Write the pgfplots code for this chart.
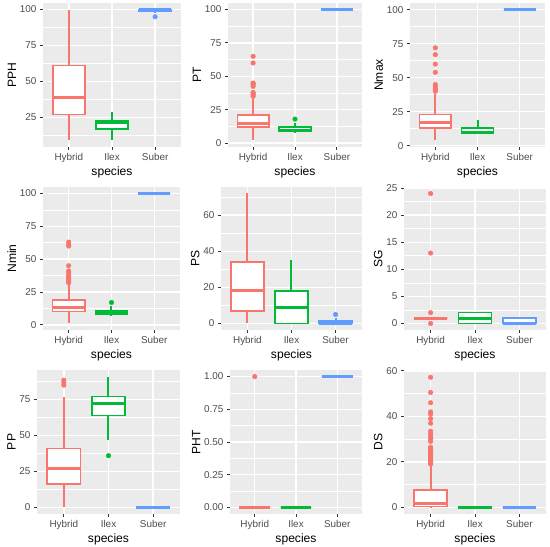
\documentclass[border=0pt]{standalone}
\usepackage{pgfplots}
\pgfplotsset{compat=1.18}
\usepgfplotslibrary{statistics}
\usepackage{fontspec}
\setmainfont{Liberation Sans}
\definecolor{hyb}{RGB}{248,118,109}
\definecolor{ilx}{RGB}{0,186,56}
\definecolor{sub}{RGB}{97,156,255}
\definecolor{ggbg}{RGB}{235,235,235}
\definecolor{ggtext}{RGB}{77,77,77}
\definecolor{ggtick}{RGB}{51,51,51}
\pgfplotsset{
 gg/.style={
  scale only axis,
  anchor=south west,
  axis background/.style={fill=ggbg},
  axis x line*=bottom, axis y line*=left,
  axis line style={draw=none},
  xmin=0.4, xmax=3.6,
  xtick={1,2,3}, xticklabels={Hybrid,Ilex,Suber},
  xmajorgrids, ymajorgrids, yminorgrids,
  major grid style={white, line width=1.4pt},
  minor grid style={white, line width=0.7pt},
  tick align=outside,
  major tick length=3pt, minor tick length=0pt,
  tick style={draw=ggtick, line width=0.9pt},
  /pgf/number format/assume math mode=true,
  tick label style={font=\fontsize{9.9}{11}\selectfont, text=ggtext},
  label style={font=\fontsize{12.1}{14}\selectfont},
  xlabel={species},
  xlabel shift=-2.5pt,
  ylabel shift=-3pt,
 },
}
% color, position, lower whisker, q1, median, q3, upper whisker
\newcommand{\bx}[7]{%
\addplot[draw=#1, line width=2pt] coordinates {(#2,#3) (#2,#4)};
\addplot[draw=#1, line width=2pt] coordinates {(#2,#6) (#2,#7)};
\addplot[draw=#1, fill=white, line width=1.6pt,
  boxplot prepared={draw direction=y, draw position=#2, lower whisker=#4, lower quartile=#4,
  median=#5, upper quartile=#6, upper whisker=#6, box extend=0.75,
  whisker extend=0, every median/.style={line width=3pt}}] coordinates {};}
\newcommand{\outl}[2]{%
\addplot[only marks, color=#1, mark=*, mark size=2.3pt, mark options={solid, draw=#1, fill=#1, line width=0.4pt}] coordinates {#2};}
\begin{document}
\begin{tikzpicture}
\path[use as bounding box, fill=white] (0,0) rectangle (550pt,547pt);
% ---------- Row 1 ----------
\begin{axis}[gg, at={(43pt,400pt)}, width=138pt, height=144pt,
  ymin=4.45, ymax=104.55, ytick={25,50,75,100}, yticklabels={25,50,75,100},
  minor ytick={12.5,37.5,62.5,87.5}, ylabel={PPH}]
\bx{hyb}{1}{9}{27}{39}{61}{100}
\bx{ilx}{2}{9}{17}{21.8}{23}{29}
\bx{sub}{3}{97.5}{99}{100}{100}{100}
\outl{sub}{(3,95)}
\end{axis}
\begin{axis}[gg, at={(228pt,400pt)}, width=134pt, height=144pt,
  ymin=-2.9, ymax=104.9, ytick={0,25,50,75,100}, yticklabels={0,25,50,75,100},
  minor ytick={12.5,37.5,62.5,87.5}, ylabel={PT}]
\bx{hyb}{1}{2}{12}{15}{21}{33}
\bx{ilx}{2}{7.5}{8.6}{9.5}{12}{15}
\bx{sub}{3}{100}{100}{100}{100}{100}
\outl{hyb}{(1,35) (1,36) (1,37) (1,38) (1,42.5) (1,43.5) (1,44.5) (1,45) (1,60) (1,65)}
\outl{ilx}{(2,18)}
\end{axis}
\begin{axis}[gg, at={(410pt,400pt)}, width=135pt, height=144pt,
  ymin=-1, ymax=105, ytick={0,25,50,75,100}, yticklabels={0,25,50,75,100},
  minor ytick={12.5,37.5,62.5,87.5}, ylabel={Nmax}]
\bx{hyb}{1}{4}{13}{17}{23}{38}
\bx{ilx}{2}{8.5}{9}{10}{13}{19}
\bx{sub}{3}{100}{100}{100}{100}{100}
\outl{hyb}{(1,40) (1,41) (1,42) (1,43.5) (1,45) (1,54) (1,60) (1,67) (1,72)}
\end{axis}
% ---------- Row 2 ----------
\begin{axis}[gg, at={(43pt,217pt)}, width=137pt, height=143pt,
  ymin=-3.95, ymax=104.95, ytick={0,25,50,75,100}, yticklabels={0,25,50,75,100},
  minor ytick={12.5,37.5,62.5,87.5}, ylabel={Nmin}]
\bx{hyb}{1}{1}{10}{13}{19}{31}
\bx{ilx}{2}{7}{8}{9}{11}{14}
\bx{sub}{3}{100}{100}{100}{100}{100}
\outl{hyb}{(1,32) (1,33) (1,34) (1,35) (1,36) (1,37) (1,38) (1,40) (1,41) (1,45) (1,60) (1,61) (1,63)}
\outl{ilx}{(2,17)}
\end{axis}
\begin{axis}[gg, at={(221pt,217pt)}, width=141pt, height=143pt,
  ymin=-3.6, ymax=75.6, ytick={0,20,40,60}, yticklabels={0,20,40,60},
  minor ytick={10,30,50,70}, ylabel={PS}]
\bx{hyb}{1}{0}{7}{18}{34}{72}
\bx{ilx}{2}{0}{0}{9}{18}{35}
\bx{sub}{3}{0}{0}{0}{1.5}{3}
\outl{sub}{(3,5)}
\end{axis}
\begin{axis}[gg, at={(404pt,217pt)}, width=142pt, height=143pt,
  ymin=-1.2, ymax=25.2, ytick={0,5,10,15,20,25}, yticklabels={0,5,10,15,20,25},
  minor ytick={2.5,7.5,12.5,17.5,22.5}, ylabel={SG}]
\bx{hyb}{1}{1}{1}{1}{1}{1}
\bx{ilx}{2}{0}{0}{1}{2}{2}
\bx{sub}{3}{0}{0}{0}{1}{1}
\outl{hyb}{(1,0) (1,2) (1,13) (1,24)}
\end{axis}
% ---------- Row 3 ----------
\begin{axis}[gg, at={(37pt,33pt)}, width=143pt, height=144pt,
  ymin=-4.55, ymax=95.55, ytick={0,25,50,75}, yticklabels={0,25,50,75},
  minor ytick={12.5,37.5,62.5,87.5}, ylabel={PP}]
\bx{hyb}{1}{0}{16.5}{27}{41}{77}
\bx{ilx}{2}{47}{64}{72}{77}{91}
\bx{sub}{3}{0}{0}{0}{0}{0}
\outl{hyb}{(1,85) (1,87) (1,88.5)}
\outl{ilx}{(2,36)}
\end{axis}
\begin{axis}[gg, at={(230pt,33pt)}, width=132pt, height=144pt,
  ymin=-0.05, ymax=1.05, ytick={0,0.25,0.5,0.75,1}, yticklabels={0.00,0.25,0.50,0.75,1.00},
  minor ytick={0.125,0.375,0.625,0.875}, ylabel={PHT}]
\bx{hyb}{1}{0}{0}{0}{0}{0}
\bx{ilx}{2}{0}{0}{0}{0}{0}
\bx{sub}{3}{1}{1}{1}{1}{1}
\outl{hyb}{(1,1)}
\end{axis}
\begin{axis}[gg, at={(404pt,33pt)}, width=142pt, height=144pt,
  ymin=-2.875, ymax=60.375, ytick={0,20,40,60}, yticklabels={0,20,40,60},
  minor ytick={10,30,50}, ylabel={DS}]
\bx{hyb}{1}{0}{0.4}{1.8}{7.7}{18.7}
\bx{ilx}{2}{0}{0}{0}{0}{0}
\bx{sub}{3}{0}{0}{0}{0}{0}
\outl{hyb}{(1,19) (1,19.5) (1,20) (1,20.5) (1,21) (1,21.5) (1,22) (1,22.5) (1,23) (1,23.5) (1,24) (1,24.5) (1,25) (1,25.5) (1,26) (1,26.5) (1,29) (1,30) (1,30.5) (1,31.5) (1,32.5) (1,33.5) (1,37) (1,39) (1,41) (1,42) (1,46) (1,50.5) (1,57.2)}
\end{axis}
\end{tikzpicture}
\end{document}
